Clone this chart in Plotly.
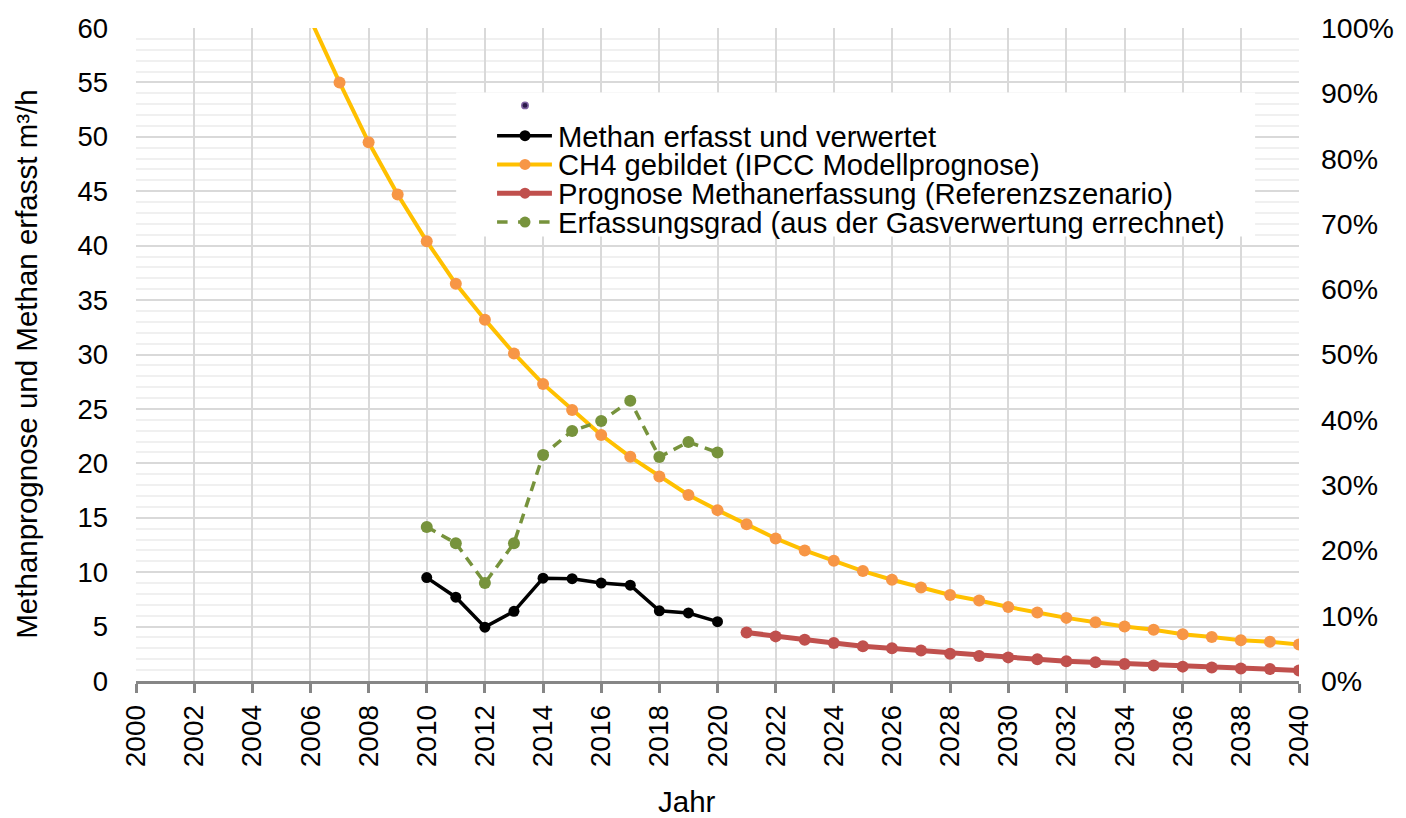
import plotly.graph_objects as go

years_ch4 = list(range(2006, 2041))
ch4_gebildet = [60.8, 55.0, 49.5, 44.7, 40.4, 36.5, 33.2, 30.1, 27.3, 24.9,
                22.6, 20.6, 18.8, 17.1, 15.7, 14.4, 13.1, 12.0, 11.05, 10.1,
                9.3, 8.6, 7.9, 7.4, 6.8, 6.3, 5.8, 5.4, 5.0, 4.7,
                4.3, 4.05, 3.75, 3.6, 3.35]

years_meas = list(range(2010, 2021))
methan_erfasst = [9.5, 7.7, 4.95, 6.4, 9.45, 9.4, 9.0, 8.8, 6.45, 6.25, 5.45]
erfassungsgrad = [0.236, 0.211, 0.150, 0.211, 0.346, 0.383, 0.398, 0.429, 0.343, 0.366, 0.350]

years_prog = list(range(2021, 2041))
prognose = [4.45, 4.1, 3.8, 3.5, 3.2, 3.0, 2.8, 2.5, 2.3, 2.17,
            2.0, 1.82, 1.72, 1.57, 1.42, 1.32, 1.24, 1.15, 1.1, 0.97]

x_ticks = list(range(2000, 2041, 2))

series_names = ["Methan erfasst und verwertet",
                "CH4 gebildet (IPCC Modellprognose)",
                "Prognose Methanerfassung (Referenzszenario)",
                "Erfassungsgrad (aus der Gasverwertung errechnet)"]

FONT = "Liberation Sans, Arial, sans-serif"

# plot-area geometry (pixels) used only to place the hand-made legend
W, H = 1406, 818
L, R, T, B = 136, 104, 23, 137
PW, PH = W - L - R, H - T - B


def px(xp):
    return (xp - L) / PW


def py(yp):
    return (H - B - yp) / PH


fig = go.Figure()

fig.add_trace(go.Scatter(x=years_meas, y=methan_erfasst, mode="lines+markers",
                         name=series_names[0],
                         line=dict(color="#000000", width=3.5),
                         marker=dict(size=11, color="#000000")))

fig.add_trace(go.Scatter(x=years_ch4, y=ch4_gebildet, mode="lines+markers",
                         name=series_names[1],
                         line=dict(color="#FFC000", width=4),
                         marker=dict(size=12, color="#F79646")))

fig.add_trace(go.Scatter(x=years_prog, y=prognose, mode="lines+markers",
                         name=series_names[2],
                         line=dict(color="#C0504D", width=5),
                         marker=dict(size=12, color="#C0504D")))

fig.add_trace(go.Scatter(x=years_meas, y=erfassungsgrad, mode="lines+markers",
                         name=series_names[3],
                         yaxis="y2",
                         line=dict(color="#77933C", width=3.5, dash="10px,7px"),
                         marker=dict(size=12, color="#77933C")))

# ---- legend (drawn by hand to match the compact row spacing) ----
styles = [("#000000", "#000000", 3.5, "solid"),
          ("#FFC000", "#F79646", 4, "solid"),
          ("#C0504D", "#C0504D", 5, "solid"),
          ("#77933C", "#77933C", 3.5, "dash")]
row_y = [131.5, 160.5, 189.5, 218.5]

shapes = [dict(type="rect", xref="paper", yref="paper",
               x0=px(457), x1=px(1258), y0=py(233), y1=py(88),
               fillcolor="white", line=dict(width=0), layer="above")]
# unnamed series marker
shapes.append(dict(type="circle", xref="paper", yref="paper",
                   xsizemode="pixel", ysizemode="pixel",
                   xanchor=px(526), yanchor=py(101),
                   x0=-3.2, x1=3.2, y0=-3.2, y1=3.2,
                   fillcolor="#2b1a4a", line=dict(color="#8064A2", width=1.5),
                   layer="above"))
annotations = []
for (lc, mc, lw, dash), yy, nm in zip(styles, row_y, series_names):
    shapes.append(dict(type="line", xref="paper", yref="paper",
                       x0=px(498), x1=px(553), y0=py(yy), y1=py(yy),
                       line=dict(color=lc, width=lw, dash=dash), layer="above"))
    shapes.append(dict(type="circle", xref="paper", yref="paper",
                       xsizemode="pixel", ysizemode="pixel",
                       xanchor=px(526), yanchor=py(yy),
                       x0=-5.5, x1=5.5, y0=-5.5, y1=5.5,
                       fillcolor=mc, line=dict(width=0), layer="above"))
    annotations.append(dict(text=nm, xref="paper", yref="paper",
                            x=px(557), y=py(yy + 1), xanchor="left",
                            yanchor="middle", showarrow=False,
                            font=dict(size=29.2, family=FONT, color="#000000")))

annotations += [
    dict(text="Jahr", xref="paper", yref="paper", x=px(688), y=py(802),
         xanchor="center", yanchor="middle", showarrow=False,
         font=dict(size=29.5)),
    dict(text="Methanprognose und Methan erfasst m³/h", xref="paper",
         yref="paper", x=px(26), y=py(362), textangle=-90,
         xanchor="center", yanchor="middle", showarrow=False,
         font=dict(size=29.5)),
]

fig.update_layout(
    width=W, height=H,
    margin=dict(l=L, r=R, t=T, b=B),
    paper_bgcolor="white", plot_bgcolor="white",
    font=dict(family=FONT, size=28, color="#000000"),
    showlegend=False,
    xaxis=dict(range=[2000, 2040], tickmode="array", tickvals=x_ticks,
               ticktext=[str(v) for v in x_ticks], tickangle=-90,
               showgrid=True, gridcolor="#d9d9d9", gridwidth=1.5,
               showline=True, linecolor="#868686", linewidth=2.5,
               ticks="outside", ticklen=9, tickwidth=2.5, tickcolor="#868686",
               ticklabelstandoff=1,
               zeroline=False, tickfont=dict(size=28)),
    yaxis=dict(range=[0, 60], dtick=5, showgrid=True, gridcolor="#d9d9d9",
               gridwidth=1.5, zeroline=False, showline=False,
               ticks="", ticklabelstandoff=27,
               minor=dict(dtick=1, showgrid=True, gridcolor="#f0f0f0", gridwidth=1.5),
               tickfont=dict(size=27.5)),
    yaxis2=dict(range=[0, 1], dtick=0.1, tickformat=".0%", overlaying="y",
                side="right", showgrid=False, zeroline=False, showline=False,
                ticks="", ticklabelstandoff=21,
                tickfont=dict(size=28.5)),
    shapes=shapes,
    annotations=annotations,
)

fig.write_html("out.html")
